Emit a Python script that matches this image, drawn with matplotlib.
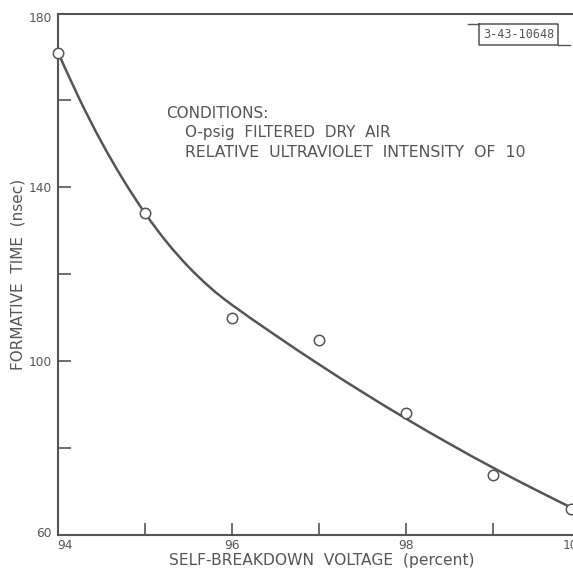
import matplotlib
matplotlib.use("Agg")
import matplotlib.pyplot as plt
from matplotlib.transforms import ScaledTranslation
from matplotlib.lines import Line2D
from matplotlib.path import Path
from matplotlib.patches import PathPatch

# measured data points
volt_pts = [94.0, 95.0, 96.0, 97.0, 98.0, 99.0, 99.9]
time_pts = [171.0, 134.0, 110.0, 104.8, 88.0, 73.8, 66.0]

# hand-drawn fitted curve
curve_x = [94.0, 94.25, 94.5, 94.75, 95.0, 95.25, 95.5, 95.75, 96.0, 96.5,
           97.0, 97.5, 98.0, 98.5, 99.0, 99.5, 99.9]
curve_y = [171.3, 160.4, 150.6, 141.9, 134.2, 127.5, 121.8, 117.0, 113.0, 106.0,
           99.3, 92.9, 86.8, 81.0, 75.5, 70.3, 66.3]

xticks = [94, 95, 96, 97, 98, 99, 100]
xticklabels = ["94", "", "96", "", "98", "", "100"]
yticks = [60, 80, 100, 120, 140, 160, 180]
yticklabels = ["60", "", "100", "", "140", "", "180"]

C = "#555555"
W, H = 573, 571
fig = plt.figure(figsize=(W / 100, H / 100), dpi=100)
left, right, top, bottom = 57.5, 580.0, 13.5, 535.0
ax = fig.add_axes([left / W, 1 - bottom / H, (right - left) / W, (bottom - top) / H])


def smooth_path(xs, ys):
    """Catmull-Rom spline through the given points, drawn as cubic Bezier segments."""
    pts = list(zip(xs, ys))
    verts = [pts[0]]
    codes = [Path.MOVETO]
    n = len(pts)
    for i in range(n - 1):
        p0 = pts[i - 1] if i > 0 else pts[i]
        p1 = pts[i]
        p2 = pts[i + 1]
        p3 = pts[i + 2] if i + 2 < n else pts[i + 1]
        c1 = (p1[0] + (p2[0] - p0[0]) / 6, p1[1] + (p2[1] - p0[1]) / 6)
        c2 = (p2[0] - (p3[0] - p1[0]) / 6, p2[1] - (p3[1] - p1[1]) / 6)
        verts += [c1, c2, p2]
        codes += [Path.CURVE4] * 3
    return Path(verts, codes)


ax.add_patch(PathPatch(smooth_path(curve_x, curve_y), facecolor="none", edgecolor=C,
                       lw=1.8, capstyle="round", joinstyle="round", zorder=2))
ax.plot(volt_pts, time_pts, linestyle="none", marker="o", ms=7.5, mfc="white",
        mec=C, mew=1.1, zorder=3, clip_on=False)

ax.set_xlim(94, 100)
ax.set_ylim(60, 180)
ax.set_xticks(xticks)
ax.set_xticklabels(xticklabels)
ax.set_yticks(yticks)
ax.set_yticklabels(yticklabels)
ax.tick_params(direction="in", length=9, width=1.2, color=C, labelcolor=C,
               labelsize=8.8, pad=4)
ax.tick_params(axis="x", pad=3)
for s in ax.spines.values():
    s.set_color(C)
    s.set_linewidth(1.5)

# shift edge tick labels as in the original
xl = ax.get_xticklabels()
xl[0].set_transform(xl[0].get_transform() + ScaledTranslation(7 / 100, 0, fig.dpi_scale_trans))
xl[-1].set_transform(xl[-1].get_transform() + ScaledTranslation(-6 / 100, 0, fig.dpi_scale_trans))
yl = ax.get_yticklabels()
yl[-1].set_transform(yl[-1].get_transform() + ScaledTranslation(0, -4 / 100, fig.dpi_scale_trans))
yl[0].set_transform(yl[0].get_transform() + ScaledTranslation(0, 3 / 100, fig.dpi_scale_trans))

fig.text(321.5 / W, 1 - 561 / H, "SELF-BREAKDOWN  VOLTAGE  (percent)", ha="center",
         va="center", color=C, fontsize=11.2)
fig.text(18 / W, 1 - 274 / H, "FORMATIVE  TIME  (nsec)", ha="center", va="center",
         rotation=90, color=C, fontsize=11)

fig.text(166 / W, 1 - 113 / H, "CONDITIONS:", ha="left", va="center", color=C,
         fontsize=11)
fig.text(185 / W, 1 - 133 / H, "O-psig  FILTERED  DRY  AIR", ha="left", va="center",
         color=C, fontsize=11)
fig.text(185 / W, 1 - 152.5 / H, "RELATIVE  ULTRAVIOLET  INTENSITY  OF  10", ha="left",
         va="center", color=C, fontsize=11.3)

# figure number box
fig.text(518.5 / W, 1 - 35 / H, "3-43-10648", ha="center", va="center", color=C,
         fontsize=8.5, family="DejaVu Sans Mono")
bx0, bx1, by0, by1 = 479, 558, 24, 45
fig.add_artist(Line2D([bx0 / W, bx1 / W, bx1 / W, bx0 / W, bx0 / W],
                      [1 - by0 / H, 1 - by0 / H, 1 - by1 / H, 1 - by1 / H, 1 - by0 / H],
                      color=C, lw=1.1, transform=fig.transFigure))
fig.add_artist(Line2D([468 / W, bx0 / W], [1 - by0 / H, 1 - by0 / H], color=C, lw=1.0,
                      transform=fig.transFigure))
fig.add_artist(Line2D([bx1 / W, 570 / W], [1 - by1 / H, 1 - by1 / H], color=C, lw=1.0,
                      transform=fig.transFigure))

fig.savefig("out.png", dpi=100)
